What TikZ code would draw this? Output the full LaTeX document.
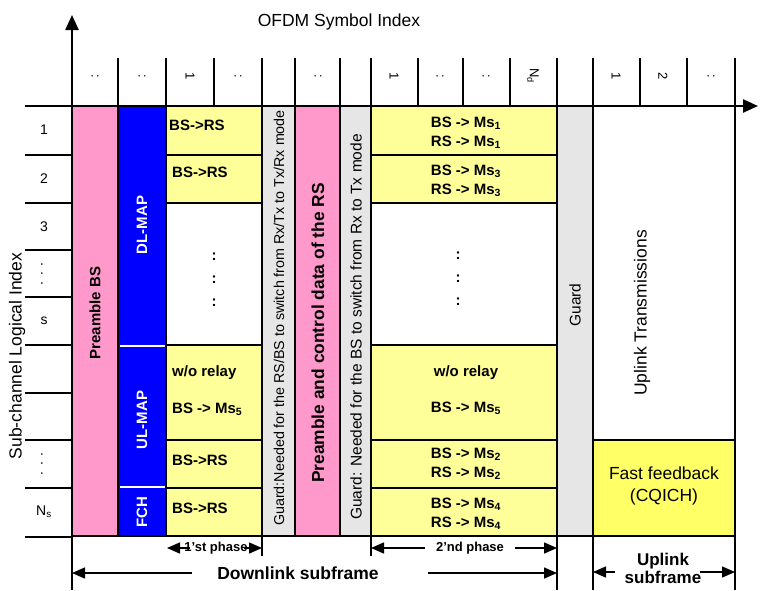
\documentclass[tikz,border=0pt]{standalone}
\usepackage{fontspec}
\setmainfont{Liberation Sans}
\usepackage{tikz}
\usetikzlibrary{positioning,arrows.meta}
\definecolor{cellyellow}{HTML}{FFFF99}
\definecolor{fbyellow}{HTML}{FFFF66}
\definecolor{prepink}{HTML}{FF99CC}
\definecolor{mapblue}{HTML}{0000FF}
\definecolor{guardgray}{HTML}{E6E6E6}
\newcommand{\setsz}[2]{\fontsize{#1}{#2}\selectfont}

\begin{document}
\begin{tikzpicture}[x=1pt, y=-1pt,
    blk/.style={draw, line width=1.6pt},
    txt/.style={font=\setsz{17.5}{22}, align=center},
    cell/.style={font=\bfseries\setsz{15}{19}, align=center, inner sep=0pt},
    maplab/.style={rotate=90, text=white, font=\bfseries\setsz{15}{18}},
    hlab/.style={rotate=-90, font=\setsz{13}{15}},
    rlab/.style={font=\setsz{14}{16}},
    dim/.style={-{Triangle[length=13pt,width=11pt]}, line width=1.5pt},
    axis/.style={-{Triangle[length=15pt,width=13pt]}, line width=2.4pt}]
\useasboundingbox (0,0) rectangle (760,590);

% blocks of the downlink subframe
\draw[blk, fill=prepink] (72,106) rectangle (118,536);
\draw[blk, fill=mapblue] (118,106) rectangle (166,536);
\draw[white, line width=2pt] (120,346) -- (165,346) (120,487) -- (165,487);
\foreach \xa/\xb in {166/262, 371/557} {
  \draw[blk, fill=cellyellow] (\xa,106) rectangle (\xb,155);
  \draw[blk, fill=cellyellow] (\xa,155) rectangle (\xb,203);
  \draw[blk, fill=white] (\xa,203) rectangle (\xb,345);
  \draw[blk, fill=cellyellow] (\xa,345) rectangle (\xb,440);
  \draw[blk, fill=cellyellow] (\xa,440) rectangle (\xb,488);
  \draw[blk, fill=cellyellow] (\xa,488) rectangle (\xb,536);
}
\draw[blk, fill=guardgray] (262,106) rectangle (295,536);
\draw[blk, fill=prepink] (295,106) rectangle (340,536);
\draw[blk, fill=guardgray] (340,106) rectangle (371,536);
\draw[blk, fill=guardgray] (557,106) rectangle (593,536);
% uplink subframe
\draw[blk, fill=fbyellow] (593,440) rectangle (735,536);

% header ticks and row ticks
\foreach \x in {118,166,214,262,295,340,371,418,463,510,557,640,687}
  \draw[line width=1.6pt] (\x,58) -- (\x,106);
\foreach \x in {593,735}
  \draw[line width=1.6pt] (\x,58) -- (\x,590);
\foreach \y in {155,203,250,297,345,393,440,488,537}
  \draw[line width=1.6pt] (25,\y) -- (72,\y);
\draw[line width=1.6pt] (262,536) -- (262,556) (371,536) -- (371,556) (557,536) -- (557,590);

% axes
\draw[axis] (72,590) -- (72,15);
\draw[axis] (25,106) -- (758,106);
\node[txt] (ofdm) at (339,22) {OFDM Symbol Index};
\node[txt, rotate=90] (subch) at (17,356) {Sub-channel Logical Index};

% symbol and sub-channel indices
\foreach \x/\t in {95/:, 142/:, 190/1, 238/:, 318/:, 394/1, 440/:, 486/:,
                   533/N\textsubscript{d}, 616/1, 663/2, 711/:}
  \node[hlab] (h\x) at (\x,76) {\t};
\foreach \y/\t in {130/1, 179/2, 227/3, 321/s, 512/N\textsubscript{s}}
  \node[rlab] (r\y) at (44,\y) {\t};
\node[rlab, rotate=90] (rdots1) at (42,274) {. . .};
\node[rlab, rotate=90] (rdots2) at (42,464) {. . .};

% labels of the blocks
\node[cell, rotate=90] (prebs) at (95,313) {Preamble BS};
\node[maplab] (dlmap) at (142,225) {DL-MAP};
\node[maplab] (ulmap) at (142,420) {UL-MAP};
\node[maplab] (fch) at (142,512) {FCH};

\node[cell, anchor=west] (c1) at (169,125) {BS->RS};
\node[cell, anchor=west] (c2) at (172,172) {BS->RS};
\node[cell] (cdots) at (214,280) {:\\[4pt]:\\[4pt]:};
\node[cell, anchor=west] (c5) at (172,373) {w/o relay};
\node[cell, anchor=west] (c6) at (172,409) {BS -> Ms\textsubscript{5}};
\node[cell, anchor=west] (c7) at (172,460) {BS->RS};
\node[cell, anchor=west] (c8) at (172,508) {BS->RS};

\node[rotate=90, font=\setsz{14.3}{16}] (guard1) at (279,318)
  {Guard:Needed for the RS/BS to switch from Rx/Tx to Tx/Rx mode};
\node[rotate=90, font=\bfseries\setsz{17.4}{20}] (prers) at (318,333)
  {Preamble and control data of the RS};
\node[rotate=90, font=\setsz{15.5}{18}] (guard2) at (356,327)
  {Guard: Needed for the BS to switch from Rx to Tx mode};

\node[cell] (m1) at (466,133) {BS -> Ms\textsubscript{1}\\RS -> Ms\textsubscript{1}};
\node[cell] (m3) at (466,181) {BS -> Ms\textsubscript{3}\\RS -> Ms\textsubscript{3}};
\node[cell] (mdots) at (458,279) {:\\[4pt]:\\[4pt]:};
\node[cell] (m5) at (466,373) {w/o relay};
\node[cell] (m6) at (466,408) {BS -> Ms\textsubscript{5}};
\node[cell] (m2) at (466,464) {BS -> Ms\textsubscript{2}\\RS -> Ms\textsubscript{2}};
\node[cell] (m4) at (466,514) {BS -> Ms\textsubscript{4}\\RS -> Ms\textsubscript{4}};

\node[rotate=90, font=\setsz{15.5}{18}] (guard3) at (575,305) {Guard};
\node[txt, rotate=90] (ultx) at (642,313) {Uplink Transmissions};
\node[txt] (fastfb) at (664,486) {Fast feedback\\(CQICH)};

% phases and subframes
\node[font=\bfseries\setsz{13}{15}] (ph1) at (216,548) {1'st phase};
\node[font=\bfseries\setsz{13}{15}] (ph2) at (470,548) {2'nd phase};
\node[font=\bfseries\setsz{17.5}{20}] (dlsf) at (298,573) {Downlink subframe};
\node[font=\bfseries\setsz{17}{18}, align=center, inner sep=0pt] (ulsf) at (663,568) {Uplink\\subframe};

\coordinate (ph1a) at (190,548);  \coordinate (ph1l) at (167,548);
\coordinate (ph1b) at (244,548);  \coordinate (ph1r) at (262,548);
\coordinate (ph2a) at (425,548);  \coordinate (ph2l) at (371,548);
\coordinate (ph2b) at (515,548);  \coordinate (ph2r) at (557,548);
\coordinate (dla) at (192,573);   \coordinate (dll) at (72,573);
\coordinate (dlb) at (428,573);   \coordinate (dlr) at (557,573);
\coordinate (ula) at (615,572);   \coordinate (ull) at (593,572);
\coordinate (ulb) at (700,572);   \coordinate (ulr) at (735,572);

\draw[dim] (ph1a) -- (ph1l);  \draw[dim] (ph1b) -- (ph1r);
\draw[dim] (ph2a) -- (ph2l);  \draw[dim] (ph2b) -- (ph2r);
\draw[dim] (dla) -- (dll);    \draw[dim] (dlb) -- (dlr);
\draw[dim] (ula) -- (ull);    \draw[dim] (ulb) -- (ulr);

\end{tikzpicture}
\end{document}
